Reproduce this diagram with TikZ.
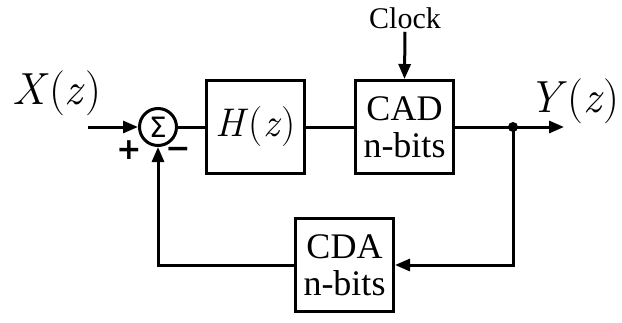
\documentclass[tikz,border=0pt]{standalone}
\usepackage{fontspec}
\newfontfamily\serif{Liberation Serif}
\newfontfamily\symb{DejaVu Sans}
\usetikzlibrary{arrows.meta,positioning}

\begin{document}
\begin{tikzpicture}[
    x=1pt, y=-1pt,
    node distance=27pt and 48pt,
    box/.style={draw, line width=3pt, minimum width=98pt, minimum height=93pt,
                align=center, inner sep=2pt,
                font=\fontsize{36}{37}\selectfont\serif},
    sum/.style={draw, circle, line width=3pt, minimum size=37pt, inner sep=0pt,
                font=\fontsize{28}{28}\selectfont\symb},
    arr/.style={-{Triangle[length=15pt, width=12pt]}, line width=3pt},
    wire/.style={line width=3pt},
    lbl/.style={inner sep=0pt, font=\fontsize{45}{45}\selectfont},
    sgn/.style={inner sep=0pt, font=\fontsize{30}{30}\selectfont\symb\bfseries},
  ]
  \useasboundingbox (0,0) rectangle (622,322);

  % -- forward path ---------------------------------------
  \node[sum] (sum) at (158,127) {Σ};
  \node[box, right=27pt of sum, font=\fontsize{40}{40}\selectfont] (hz)
    {\textit{H}(\textit{z})};
  \node[box, right=48pt of hz] (cad) {CAD\\n-bits};
  \node[inner sep=3pt, font=\fontsize{30}{30}\selectfont\serif] (clock) at (405,18) {Clock};

  % -- signals --------------------------------------------
  \node[lbl] (xlbl) at (57,93) {\textit{X}(\textit{z})};
  \node[lbl, anchor=east] (ylbl) at (620,101) {\textit{Y}(\textit{z})};
  \coordinate (xin) at (88,127);
  \coordinate (dot) at (513,127);
  \coordinate (yout) at (564,127);
  \node[sgn] (plus) at (129,150) {+};
  \node[sgn] (minus) at (178,153) {−};

  % -- feedback -------------------------------------------
  \node[box] (cda) at (344.5,265) {CDA\\n-bits};

  % -- connectors -----------------------------------------
  \draw[arr] (xin) -- (sum.west);
  \draw[wire] (sum.east) -- (hz.west);
  \draw[wire] (hz.east) -- (cad.west);
  \draw[arr] (cad.east) -- (yout);
  \draw[arr] (clock.south) -- (cad.north);
  \fill (dot) circle (5pt);
  \draw[arr] (dot) |- (cda.east);
  \draw[arr] (cda.west) -| (sum.south);
\end{tikzpicture}
\end{document}
